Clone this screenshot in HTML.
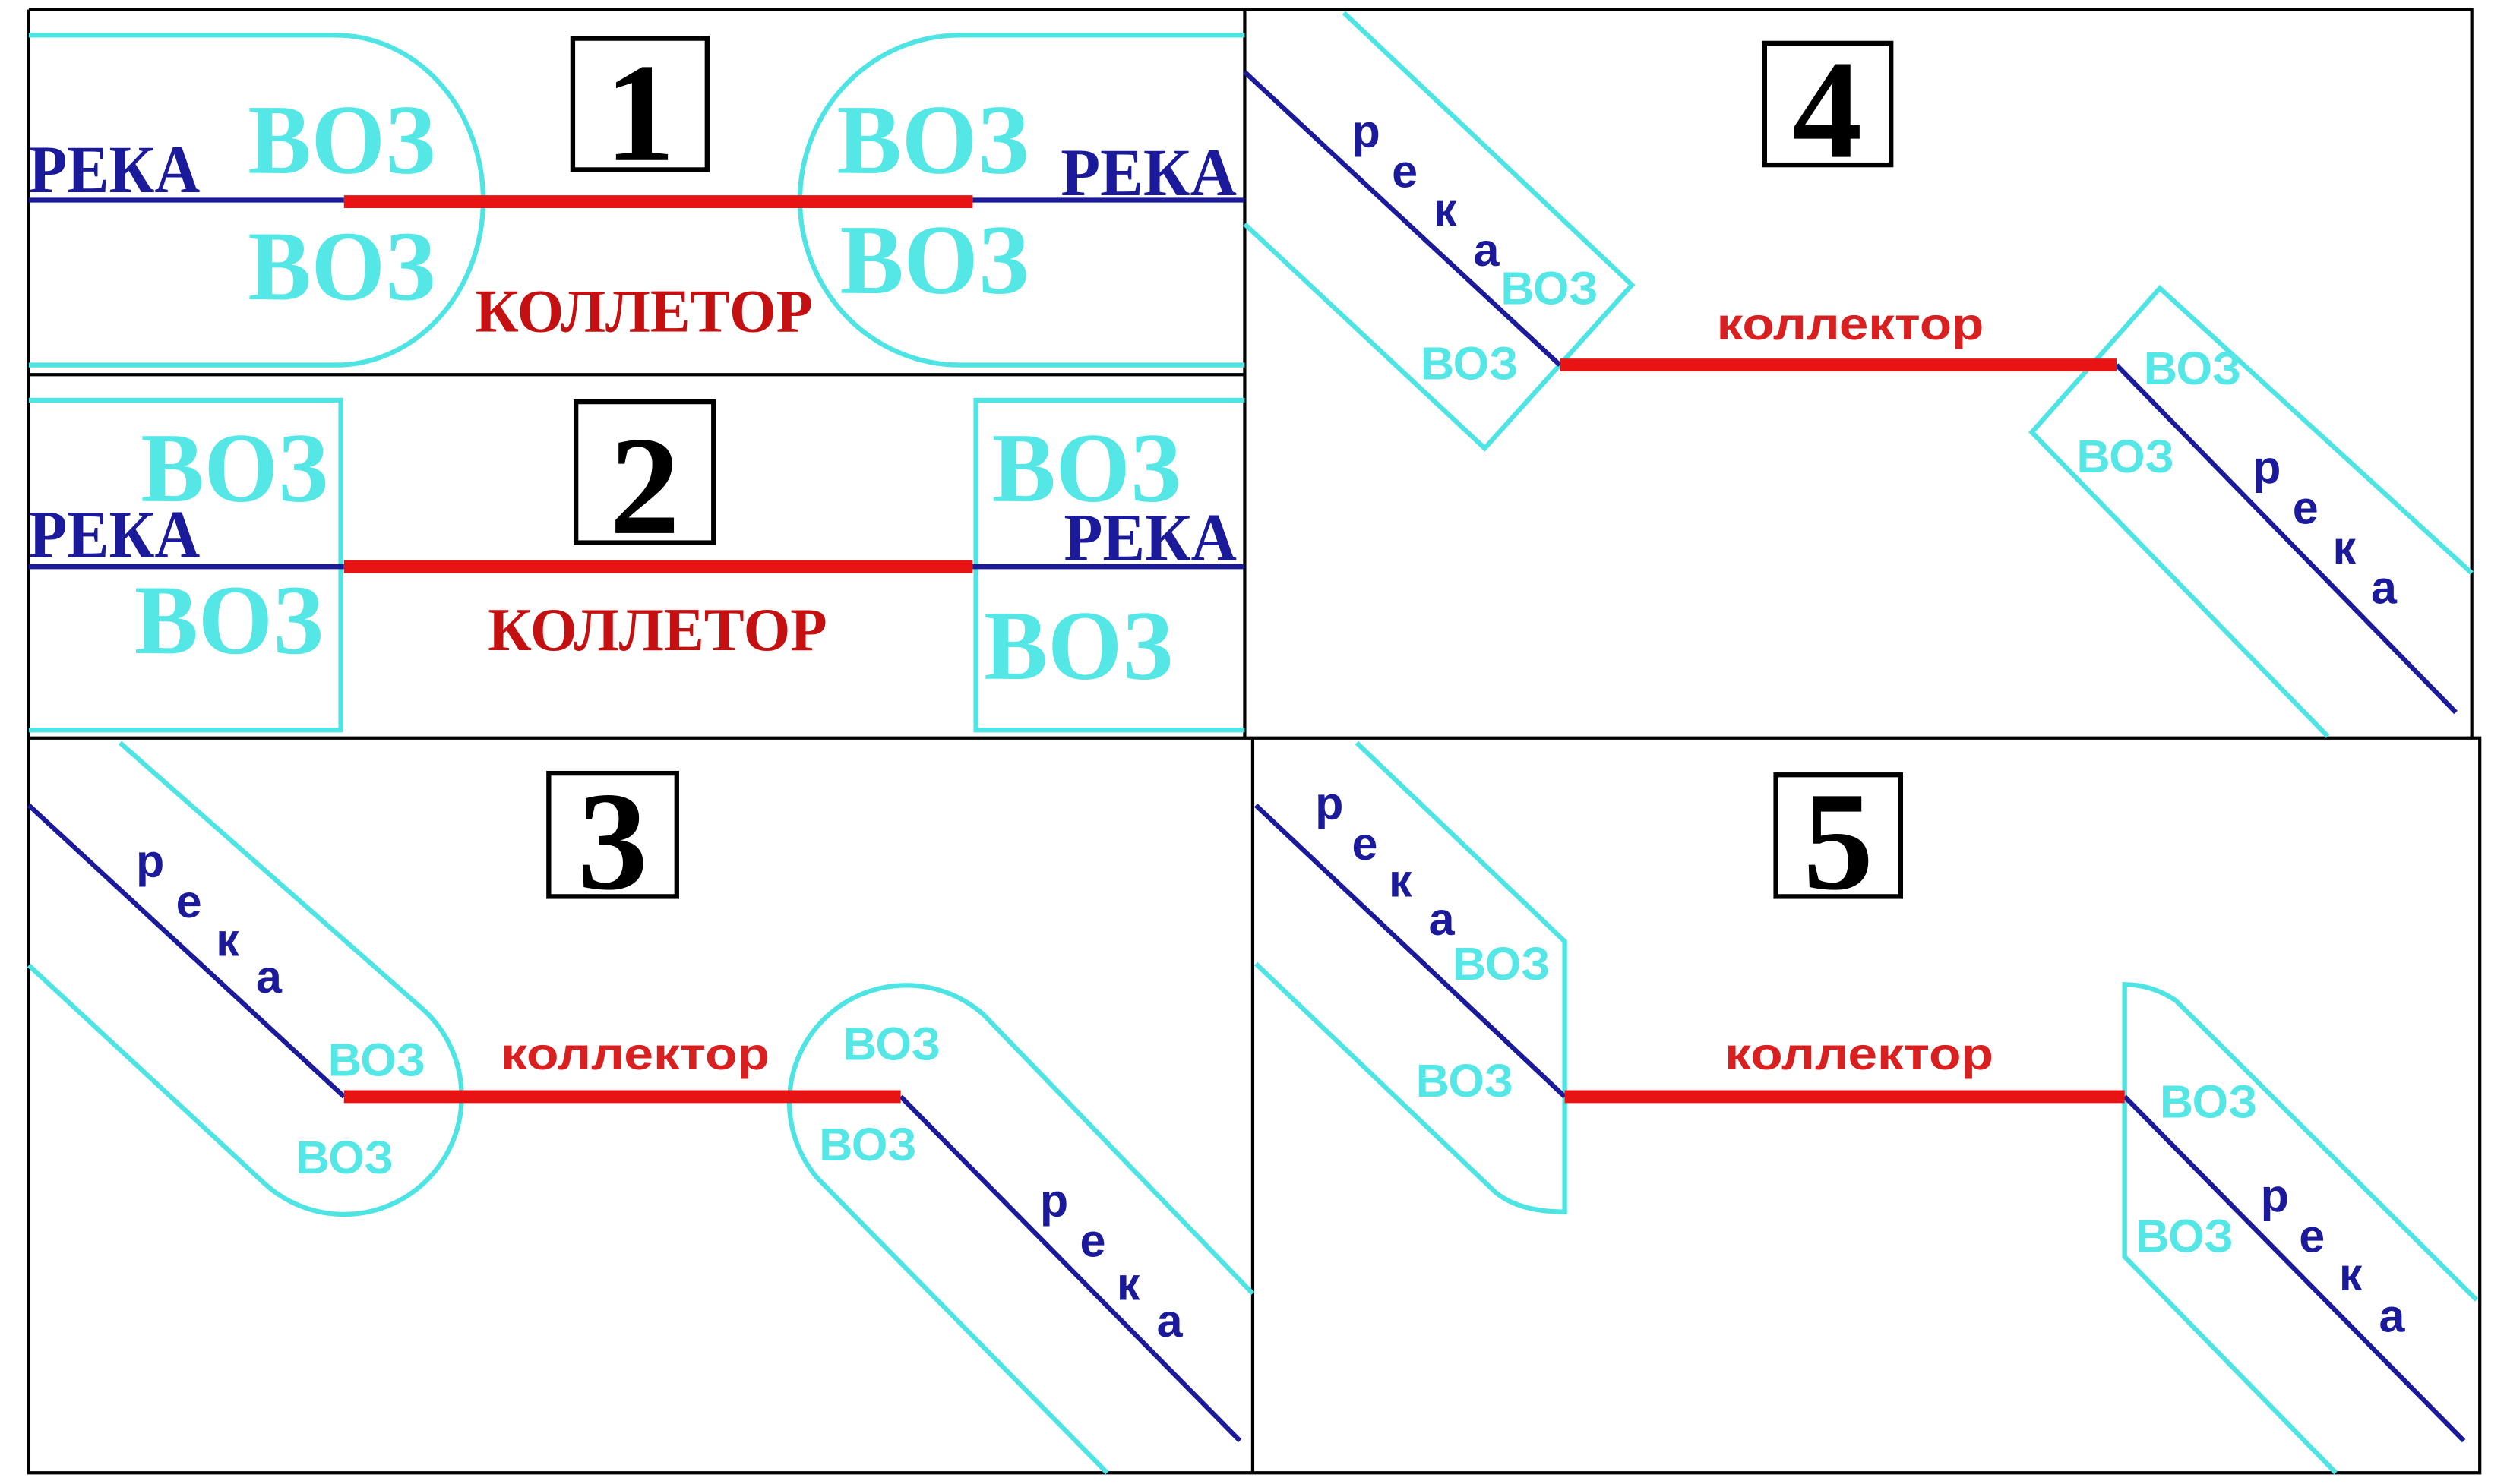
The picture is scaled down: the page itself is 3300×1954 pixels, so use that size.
<!DOCTYPE html>
<html><head><meta charset="utf-8"><style>html,body{margin:0;padding:0;background:#fff}svg{display:block}</style></head>
<body>
<svg width="3300" height="1954" viewBox="0 0 1567 927" preserveAspectRatio="none" xmlns="http://www.w3.org/2000/svg">
<rect width="1567" height="927" fill="#fff"/>
<g fill="none" stroke="#000" stroke-width="2">
<path d="M18,6 H1545 V461 M778,6 V461 M18,6 V920 H1550 V461 H18 M18,234 H778 M783,461 V920"/>
</g>
<g fill="none" stroke="#4ee4e4" stroke-width="3">
<path d="M18,22 H210 A92,103 0 0 1 210,228 H18"/>
<path d="M778,22 H600 A100,103 0 0 0 600,228 H778"/>
<path d="M18,250 H213 V456 H18"/>
<path d="M778,250 H610 V456 H778"/>
<path d="M75,464 L265,631 A73,73 0 0 1 165,739 L18,603"/>
<path d="M783,808 L615,634 A73,73 0 0 0 511,736 L692,920"/>
<path d="M840,8 L1020,178 L928,280 L778,140"/>
<path d="M1545,358 L1350,180 L1270,270 L1455,460"/>
<path d="M848,464 L978,588 L978,757 Q950,757 935,745 L785,602"/>
<path d="M1548,812 L1360,625 Q1345,615 1328,615 L1328,785 L1460,920"/>
</g>
<g stroke="#1a1a9a" stroke-width="3" fill="none">
<path d="M18,125 H215 M608,125 H778 M18,354 H215 M608,354 H778"/>
<path d="M778,45 L975,228 M1323,228 L1535,445"/>
<path d="M18,503 L215,685 M563,685 L775,900"/>
<path d="M785,503 L978,685 M1328,685 L1540,900"/>
</g>
<g stroke="#e81414" stroke-width="8">
<path d="M215,126 H608 M215,354 H608 M975,228 H1323 M215,685 H563 M978,685 H1328"/>
</g>
<g fill="#fff" stroke="#000" stroke-width="3">
<rect x="358" y="24" width="84" height="82"/>
<rect x="360" y="251" width="86" height="88"/>
<rect x="1103" y="27" width="79" height="76"/>
<rect x="343" y="483" width="80" height="77"/>
<rect x="1110" y="484" width="78" height="76"/>
</g>
<g font-family="Liberation Serif, serif" font-weight="bold" font-size="88" fill="#000" text-anchor="middle">
<text x="400" y="100">1</text><text x="403" y="333">2</text><text x="1142" y="98">4</text><text x="383" y="555">3</text><text x="1149" y="555">5</text>
</g>
<g font-family="Liberation Serif, serif" font-weight="bold" fill="#55e6e6" font-size="62">
<text x="155" y="108" textLength="117" lengthAdjust="spacingAndGlyphs">ВОЗ</text>
<text x="155" y="187" textLength="117" lengthAdjust="spacingAndGlyphs">ВОЗ</text>
<text x="523" y="108" textLength="120" lengthAdjust="spacingAndGlyphs">ВОЗ</text>
<text x="525" y="183" textLength="118" lengthAdjust="spacingAndGlyphs">ВОЗ</text>
<text x="88" y="313" textLength="117" lengthAdjust="spacingAndGlyphs">ВОЗ</text>
<text x="84" y="408" textLength="118" lengthAdjust="spacingAndGlyphs">ВОЗ</text>
<text x="620" y="313" textLength="118" lengthAdjust="spacingAndGlyphs">ВОЗ</text>
<text x="615" y="424" textLength="118" lengthAdjust="spacingAndGlyphs">ВОЗ</text>
</g>
<g font-family="Liberation Serif, serif" font-weight="bold" fill="#1a1a9a" font-size="42">
<text x="18" y="120" textLength="107" lengthAdjust="spacingAndGlyphs">РЕКА</text>
<text x="663" y="122" textLength="110" lengthAdjust="spacingAndGlyphs">РЕКА</text>
<text x="18" y="348" textLength="107" lengthAdjust="spacingAndGlyphs">РЕКА</text>
<text x="665" y="350" textLength="108" lengthAdjust="spacingAndGlyphs">РЕКА</text>
</g>
<g font-family="Liberation Serif, serif" font-weight="bold" fill="#c41010" font-size="38">
<text x="297" y="207" textLength="211" lengthAdjust="spacingAndGlyphs">КОЛЛЕТОР</text>
<text x="305" y="406" textLength="212" lengthAdjust="spacingAndGlyphs">КОЛЛЕТОР</text>
</g>
<g font-family="Liberation Sans, sans-serif" font-weight="bold" fill="#d82020" font-size="28">
<text x="1073" y="212" textLength="167" lengthAdjust="spacingAndGlyphs">коллектор</text>
<text x="313" y="668" textLength="168" lengthAdjust="spacingAndGlyphs">коллектор</text>
<text x="1078" y="668" textLength="168" lengthAdjust="spacingAndGlyphs">коллектор</text>
</g>
<g font-family="Liberation Sans, sans-serif" font-weight="bold" fill="#55e6e6" font-size="29">
<text x="938" y="190">ВОЗ</text><text x="888" y="237">ВОЗ</text>
<text x="1340" y="240">ВОЗ</text><text x="1298" y="295">ВОЗ</text>
<text x="205" y="672">ВОЗ</text><text x="185" y="733">ВОЗ</text>
<text x="527" y="662">ВОЗ</text><text x="512" y="725">ВОЗ</text>
<text x="908" y="612">ВОЗ</text><text x="885" y="685">ВОЗ</text>
<text x="1350" y="698">ВОЗ</text><text x="1335" y="782">ВОЗ</text>
</g>
<g font-family="Liberation Sans, sans-serif" font-weight="bold" fill="#1a1a9a" font-size="29">
<text x="845" y="92">р</text><text x="870" y="117">е</text><text x="896" y="141">к</text><text x="921" y="166">а</text>
<text x="1408" y="302">р</text><text x="1433" y="327">е</text><text x="1458" y="352">к</text><text x="1482" y="377">а</text>
<text x="85" y="548">р</text><text x="110" y="573">е</text><text x="135" y="597">к</text><text x="160" y="620">а</text>
<text x="650" y="760">р</text><text x="675" y="785">е</text><text x="698" y="812">к</text><text x="723" y="835">а</text>
<text x="822" y="512">р</text><text x="845" y="537">е</text><text x="868" y="560">к</text><text x="893" y="584">а</text>
<text x="1413" y="757">р</text><text x="1437" y="782">е</text><text x="1462" y="806">к</text><text x="1487" y="832">а</text>
</g>
</svg>
</body></html>
